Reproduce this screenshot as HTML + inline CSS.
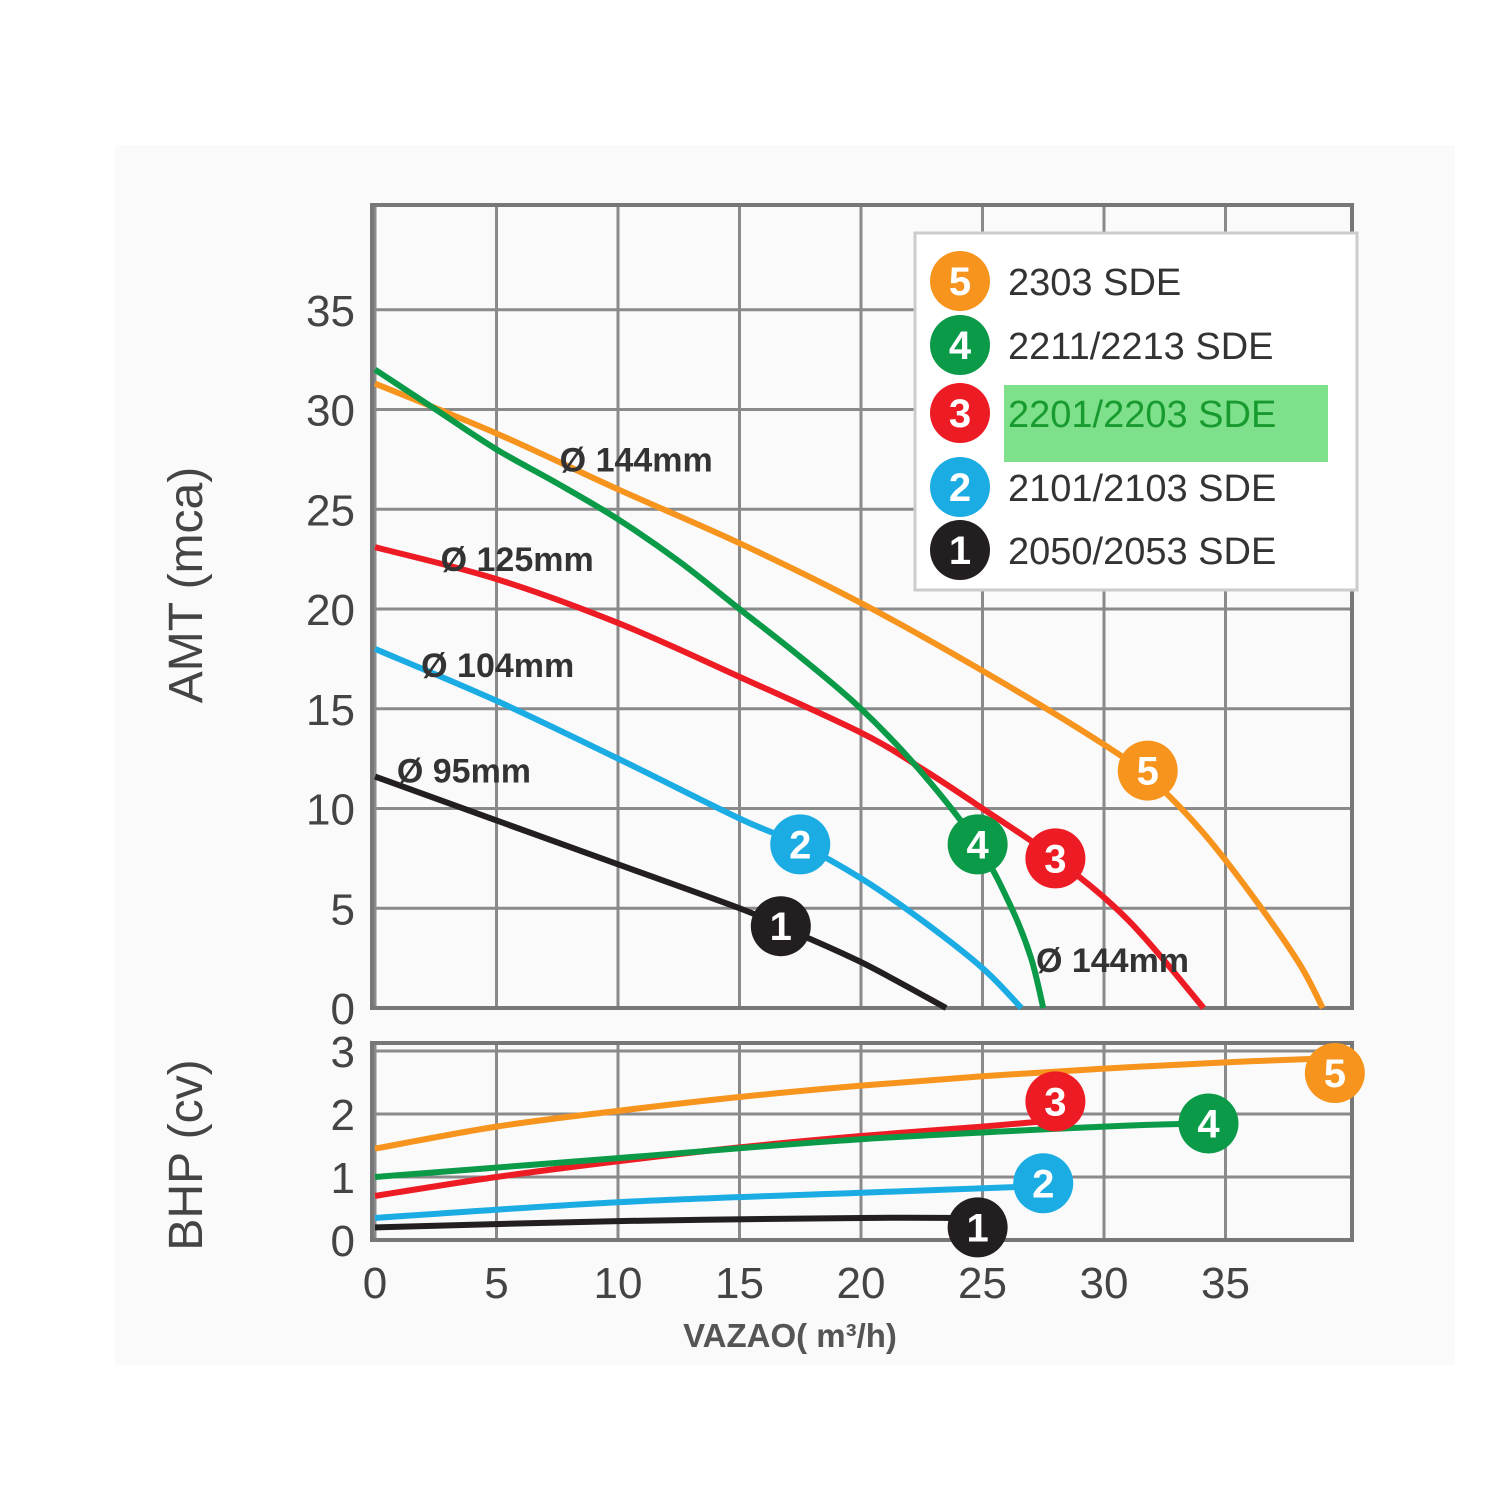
<!DOCTYPE html>
<html><head><meta charset="utf-8"><style>
html,body{margin:0;padding:0;background:#fff}
svg{display:block}
text{font-family:"Liberation Sans",sans-serif}
</style></head><body>
<svg id="c" width="1500" height="1500" viewBox="0 0 1500 1500">
<rect x="115" y="145" width="1340" height="1220" fill="#fafafa"/>
<g id="g"></g>
</svg>
<script>
const xTicks=[0,5,10,15,20,25,30,35];
const hTicks=[0,5,10,15,20,25,30,35];
const pTicks=[0,1,2,3];
const seriesNames=['2303 SDE','2211/2213 SDE','2201/2203 SDE','2101/2103 SDE','2050/2053 SDE'];
const seriesIds=['5','4','3','2','1'];
const colors=['#f7941d','#0a9a48','#ed1c24','#1cace4','#231f20'];
const head5=[[0,31.3],[5,28.8],[10,26],[15,23.3],[20,20.3],[25,16.9],[30,13.2],[32,11.4],[34,8.9],[36,5.8],[38,2.3],[39,0]];
const head4=[[0,32],[2.5,30],[5,28],[7.5,26.3],[10,24.5],[12.5,22.4],[15,20],[17.5,17.6],[20,15],[22.5,11.8],[24.8,8.2],[26.2,5],[27,2.5],[27.5,0]];
const head3=[[0,23.1],[5,21.5],[10,19.3],[15,16.6],[20,13.8],[22.5,12],[25,10],[28,7.5],[31,4.4],[34.1,0]];
const head2=[[0,18],[5,15.4],[10,12.5],[15,9.5],[17.5,8.2],[20,6.5],[22.5,4.4],[25,2],[26.6,0]];
const head1=[[0,11.6],[5,9.4],[10,7.2],[15,5],[16.7,4.1],[20,2.3],[23.5,0]];
const headMarkers=[[31.8,11.9],[24.8,8.2],[28,7.5],[17.5,8.2],[16.7,4.1]];
const bhp5=[[0,1.45],[5,1.8],[10,2.05],[15,2.27],[20,2.45],[25,2.6],[30,2.72],[35,2.82],[39,2.88]];
const bhp4=[[0,1.0],[10,1.3],[20,1.6],[30,1.8],[34,1.85]];
const bhp3=[[0,0.7],[5,1.0],[10,1.25],[15,1.47],[20,1.65],[25,1.8],[28,1.9]];
const bhp2=[[0,0.35],[10,0.6],[20,0.75],[27,0.85]];
const bhp1=[[0,0.2],[10,0.3],[20,0.35],[24,0.35]];
const bhpMarkers=[[39.5,2.65],[34.3,1.85],[28,2.2],[27.5,0.9],[24.8,0.2]];
const diaLabels=[['Ø 144mm',7.6,26.9],['Ø 125mm',2.7,21.9],['Ø 104mm',1.9,16.6],['Ø 95mm',0.9,11.3],['Ø 144mm',27.2,1.8]];

const NS='http://www.w3.org/2000/svg';
const g=document.getElementById('g');
const X=v=>375+24.3*v;
const Y=v=>1008-19.95*v;
const P=v=>1240-63*v;
function el(t,a,p){const e=document.createElementNS(NS,t);for(const k in a)e.setAttribute(k,a[k]);(p||g).appendChild(e);return e;}
[[205,1008],[1043,1240]].forEach((r,i)=>{
  xTicks.concat([40.2]).forEach(t=>{const l=el('line',{x1:X(t),x2:X(t),y1:r[0],y2:r[1],stroke:'#8a8a8a','stroke-width':3});
  
  });
});
hTicks.forEach(t=>{const l=el('line',{x1:372,x2:1352,y1:Y(t),y2:Y(t),stroke:'#8a8a8a','stroke-width':3});

});
pTicks.forEach(t=>{const l=el('line',{x1:372,x2:1352,y1:P(t),y2:P(t),stroke:'#8a8a8a','stroke-width':3});

});
let f1=el('rect',{x:372,y:205,width:980,height:803,fill:'none',stroke:'#777','stroke-width':4});


let f2=el('rect',{x:372,y:1043,width:980,height:197,fill:'none',stroke:'#777','stroke-width':4});


hTicks.forEach(t=>{const e=el('text',{x:355,y:Y(t)+16,'text-anchor':'end','font-size':44,fill:'#444'});e.textContent=t;

});
pTicks.forEach(t=>{const e=el('text',{x:355,y:P(t)+16,'text-anchor':'end','font-size':44,fill:'#444'});e.textContent=t;

});
xTicks.forEach(t=>{const e=el('text',{x:X(t),y:1298,'text-anchor':'middle','font-size':44,fill:'#444'});e.textContent=t;

});
let a1=el('text',{x:0,y:0,'text-anchor':'middle','font-size':48,fill:'#444',transform:'translate(202,585) rotate(-90)'});a1.textContent='AMT (mca)';


let a2=el('text',{x:0,y:0,'text-anchor':'middle','font-size':48,fill:'#444',transform:'translate(202,1155) rotate(-90)'});a2.textContent='BHP (cv)';


let a3=el('text',{x:790,y:1347,'text-anchor':'middle','font-size':33,'font-weight':'bold',fill:'#555'});a3.textContent='VAZAO( m³/h)';


function smooth(pts){let d='M'+pts[0][0]+','+pts[0][1];
for(let i=0;i<pts.length-1;i++){const p0=pts[i-1]||pts[i],p1=pts[i],p2=pts[i+1],p3=pts[i+2]||p2;
d+=' C'+(p1[0]+(p2[0]-p0[0])/6)+','+(p1[1]+(p2[1]-p0[1])/6)+' '+(p2[0]-(p3[0]-p1[0])/6)+','+(p2[1]-(p3[1]-p1[1])/6)+' '+p2[0]+','+p2[1];}
return d;}
const heads=[head5,head4,head3,head2,head1],bhps=[bhp5,bhp4,bhp3,bhp2,bhp1];
const order=[4,3,2,0,1];
order.forEach(i=>{
  const c=el('path',{d:smooth(heads[i].map(p=>[X(p[0]),Y(p[1])])),fill:'none',stroke:colors[i],'stroke-width':6});
  
  
  const b=el('path',{d:smooth(bhps[i].map(p=>[X(p[0]),P(p[1])])),fill:'none',stroke:colors[i],'stroke-width':6});
  
  
});
function marker(cx,cy,i,name){const m=el('g',{});


el('circle',{cx:cx,cy:cy,r:30,fill:colors[i]},m);
const t=el('text',{x:cx,y:cy+14,'text-anchor':'middle','font-size':40,'font-weight':'bold',fill:'#fff'},m);t.textContent=seriesIds[i];}
headMarkers.forEach((p,i)=>marker(X(p[0]),Y(p[1]),i,'head-marker-'+seriesIds[i]));
bhpMarkers.forEach((p,i)=>marker(X(p[0]),P(p[1]),i,'bhp-marker-'+seriesIds[i]));
diaLabels.forEach(d=>{const t=el('text',{x:X(d[1]),y:Y(d[2]),'font-size':34,'font-weight':'bold',fill:'#333'});t.textContent=d[0];

});
const lg=el('g',{});


el('rect',{x:915,y:233,width:442,height:357,fill:'#fff',stroke:'#ccc','stroke-width':3},lg);
el('rect',{x:1004,y:385,width:324,height:77,fill:'#7fe08c'},lg);
const ly=[281,345,413,487,550];
seriesNames.forEach((n,i)=>{const e=el('g',{},lg);


el('circle',{cx:960,cy:ly[i],r:30,fill:colors[i]},e);
const t=el('text',{x:960,y:ly[i]+14,'text-anchor':'middle','font-size':40,'font-weight':'bold',fill:'#fff'},e);t.textContent=seriesIds[i];
const l=el('text',{x:1008,y:ly[i]+14,'font-size':38,fill:i==2?'#179a2e':'#333'},e);l.textContent=n;});
</script>
</body></html>
